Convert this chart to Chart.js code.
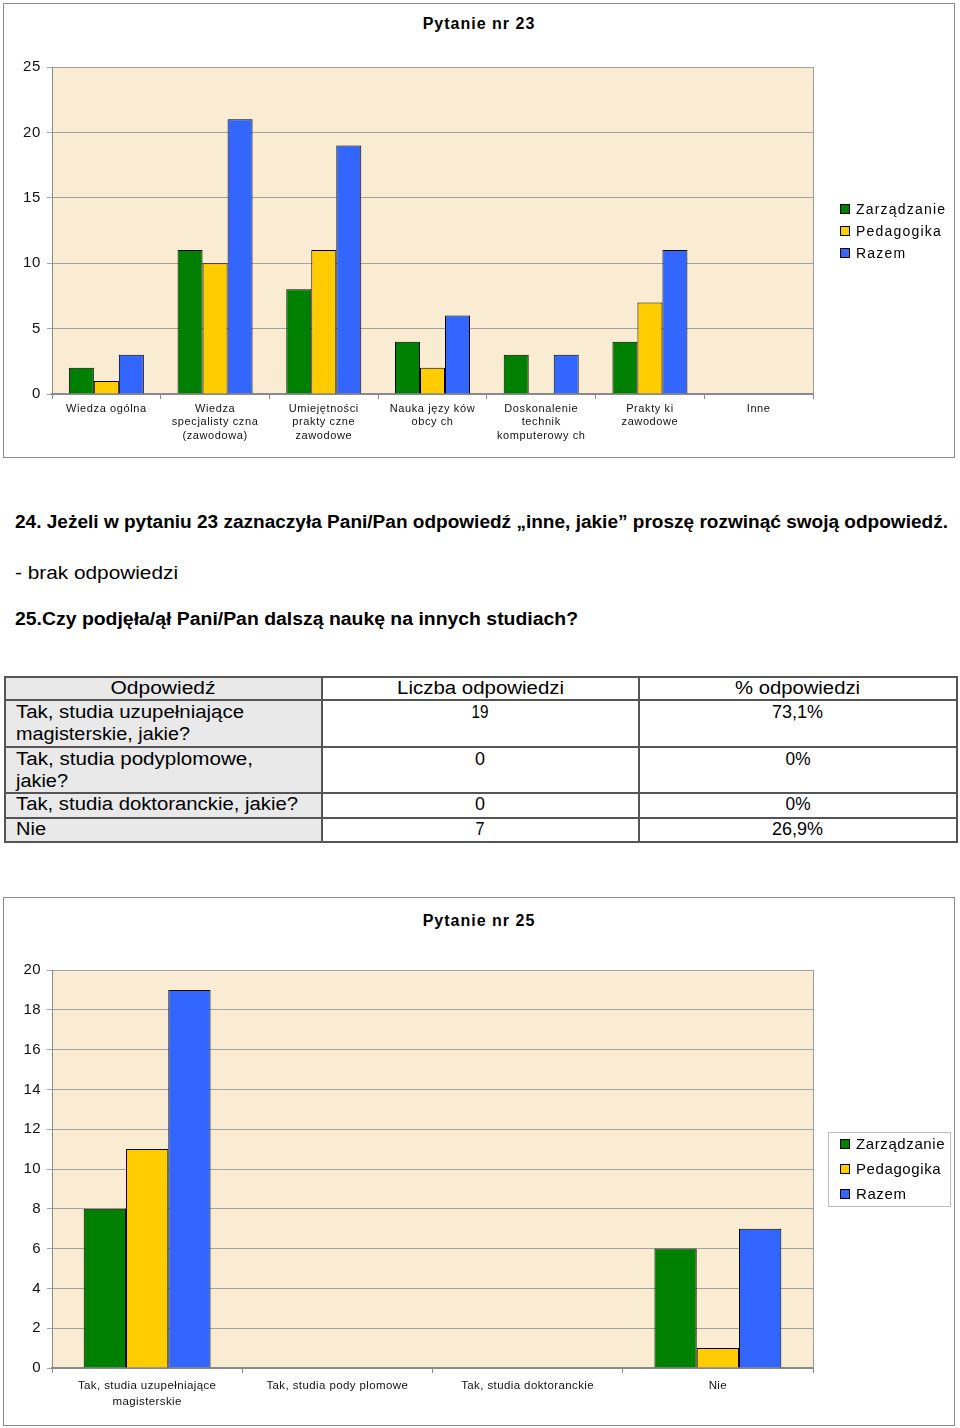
<!DOCTYPE html>
<html><head><meta charset="utf-8">
<script src="https://cdn.jsdelivr.net/npm/chart.js"></script>
<style>
html,body{margin:0;padding:0;background:#fff;}
body{width:960px;height:1428px;position:relative;overflow:hidden;font-family:"Liberation Sans",Arial,sans-serif;color:#000;}
.box{position:absolute;border:1px solid #8a8a8a;background:#fff;}
.box canvas{position:absolute;left:0;top:0;}
.ttl{position:absolute;left:0;width:100%;text-align:center;font-weight:bold;font-size:16px;letter-spacing:1px;line-height:18px;}
.lg{position:absolute;font-size:14px;letter-spacing:1.2px;}
.lg .it{position:absolute;left:0;white-space:nowrap;height:20px;line-height:20px;}
.lg .sw{display:inline-block;width:8px;height:8px;border:1px solid #000;vertical-align:middle;margin-right:6px;position:relative;top:-1px;}
.lgbox{border:1px solid #bdbdbd;}
.p{position:absolute;left:15px;line-height:24px;font-size:18px;white-space:nowrap;}
.f{display:inline-block;white-space:nowrap;transform-origin:0 50%;}
.fc{transform-origin:50% 50%;}
#tbl{position:absolute;left:4px;top:676px;width:952px;border-collapse:collapse;table-layout:fixed;font-size:18px;}
#tbl td{border:2px solid #555;padding:0;line-height:21px;vertical-align:top;text-align:center;}
#tbl tr.dbl td{line-height:22px;}
#tbl td.c1{background:#e9e9e9;}
#tbl td.l{text-align:left;padding-left:10px;}
</style>
</head><body>

<div class="box" style="left:3px;top:3px;width:950px;height:453px;">
  <div class="ttl" style="top:11px;">Pytanie nr 23</div>
  <canvas id="c23" width="950" height="453"></canvas>
</div>
<div class="lg" id="lg23" style="left:840px;top:199px;width:115px;height:70px;"></div>

<div class="p" style="top:510px;font-weight:bold;"><span class="f" data-w="933">24. Jeżeli w pytaniu 23 zaznaczyła Pani/Pan odpowiedź „inne, jakie” proszę rozwinąć swoją odpowiedź.</span></div>
<div class="p" style="top:561px;"><span class="f" data-w="163">- brak odpowiedzi</span></div>
<div class="p" style="top:607px;font-weight:bold;"><span class="f" data-w="563">25.Czy podjęła/ął Pani/Pan dalszą naukę na innych studiach?</span></div>

<table id="tbl">
<colgroup><col style="width:317px"><col style="width:317px"><col style="width:318px"></colgroup>
<tr style="height:23px"><td class="c1"><span class="f fc" data-w="105">Odpowiedź</span></td><td><span class="f fc" data-w="167">Liczba odpowiedzi</span></td><td><span class="f fc" data-w="125">% odpowiedzi</span></td></tr>
<tr class="dbl" style="height:47px"><td class="c1 l"><span class="f" data-w="228">Tak, studia uzupełniające</span><br><span class="f" data-w="174">magisterskie, jakie?</span></td><td><span class="f fc" data-w="17">19</span></td><td><span class="f fc" data-w="51">73,1%</span></td></tr>
<tr class="dbl" style="height:46px"><td class="c1 l"><span class="f" data-w="237">Tak, studia podyplomowe,</span><br><span class="f" data-w="52">jakie?</span></td><td><span class="f fc" data-w="10">0</span></td><td><span class="f fc" data-w="25">0%</span></td></tr>
<tr style="height:25px"><td class="c1 l"><span class="f" data-w="282">Tak, studia doktoranckie, jakie?</span></td><td><span class="f fc" data-w="10">0</span></td><td><span class="f fc" data-w="25">0%</span></td></tr>
<tr style="height:24px"><td class="c1 l"><span class="f" data-w="30">Nie</span></td><td><span class="f fc" data-w="9">7</span></td><td><span class="f fc" data-w="51">26,9%</span></td></tr>
</table>

<div class="box" style="left:3px;top:897px;width:950px;height:527px;">
  <div class="ttl" style="top:14px;">Pytanie nr 25</div>
  <canvas id="c25" width="950" height="527"></canvas>
</div>
<div class="lg lgbox" id="lg25" style="left:828px;top:1132px;width:121px;height:73px;font-size:15px;letter-spacing:0.6px;"></div>

<script>
// ---- DATA: Pytanie nr 23 ----
const seriesNames = ['Zarządzanie', 'Pedagogika', 'Razem'];
const seriesColors = ['#008000', '#ffcc00', '#3366ff'];
const cats23 = [
  ['Wiedza ogólna'],
  ['Wiedza', 'specjalisty czna', '(zawodowa)'],
  ['Umiejętności', 'prakty czne', 'zawodowe'],
  ['Nauka języ ków', 'obcy ch'],
  ['Doskonalenie', 'technik', 'komputerowy ch'],
  ['Prakty ki', 'zawodowe'],
  ['Inne']
];
const zarz23 = [2, 11, 8, 4, 3, 4, 0];
const ped23  = [1, 10, 11, 2, 0, 7, 0];
const raz23  = [3, 21, 19, 6, 3, 11, 0];
const yMax23 = 25, yStep23 = 5;

// ---- DATA: Pytanie nr 25 ----
const cats25 = [
  ['Tak, studia uzupełniające', 'magisterskie'],
  ['Tak, studia pody plomowe'],
  ['Tak, studia doktoranckie'],
  ['Nie']
];
const zarz25 = [8, 0, 0, 6];
const ped25  = [11, 0, 0, 1];
const raz25  = [19, 0, 0, 7];
const yMax25 = 20, yStep25 = 2;

const FONT = '"Liberation Sans", Arial, sans-serif';

const plotBg = {
  id: 'plotBg',
  beforeDraw(chart) {
    const {ctx, chartArea: a} = chart;
    ctx.save();
    ctx.fillStyle = '#f9ecd2';
    ctx.fillRect(a.left, a.top, a.right - a.left, a.bottom - a.top);
    ctx.restore();
  },
  afterDraw(chart) {
    const {ctx, chartArea: a} = chart;
    ctx.save();
    ctx.strokeStyle = '#9a9a9a';
    ctx.lineWidth = 1;
    ctx.beginPath();
    ctx.moveTo(Math.round(a.right) + 0.5, a.top);
    ctx.lineTo(Math.round(a.right) + 0.5, a.bottom);
    ctx.stroke();
    ctx.restore();
  }
};

function makeChart(id, cats, data, yMax, yStep, opts) {
  const ctx = document.getElementById(id).getContext('2d');
  const spacingPlugin = {
    id: 'spacing',
    beforeDraw(chart) { chart.ctx.letterSpacing = opts.spacing; },
    afterDraw(chart) { chart.ctx.letterSpacing = '0px'; }
  };
  return new Chart(ctx, {
    type: 'bar',
    data: {
      labels: cats,
      datasets: data.map((d, i) => ({
        label: seriesNames[i],
        data: d,
        backgroundColor: seriesColors[i],
        borderColor: '#000',
        borderWidth: 1,
        borderSkipped: 'bottom',
        categoryPercentage: opts.catPct,
        barPercentage: 1
      }))
    },
    options: {
      responsive: false,
      animation: false,
      devicePixelRatio: 1,
      layout: { padding: { left: 0, right: 141, top: opts.top, bottom: 0 } },
      plugins: { legend: { display: false }, title: { display: false }, tooltip: { enabled: false } },
      scales: {
        x: {
          offset: true,
          grid: { offset: true, drawOnChartArea: false, tickLength: 5, color: '#8a8a8a' },
          border: { color: '#8a8a8a', width: 2 },
          ticks: { color: '#111', font: { family: FONT, size: opts.xFont, lineHeight: opts.xLine }, padding: opts.xPad, maxRotation: 0, autoSkip: false },
          afterFit(s) { s.height = opts.xHeight; }
        },
        y: {
          min: 0, max: yMax,
          grid: { color: '#a3a3a3', tickLength: 5, lineWidth: 1 },
          border: { color: '#8a8a8a', width: 1 },
          ticks: { stepSize: yStep, color: '#111', font: { family: FONT, size: 15 }, padding: 6 },
          afterFit(s) { s.width = 48; }
        }
      }
    },
    plugins: [plotBg, spacingPlugin]
  });
}

function buildLegend(id, tops) {
  const el = document.getElementById(id);
  seriesNames.forEach((n, i) => {
    const it = document.createElement('div');
    it.className = 'it';
    it.style.top = tops[i] + 'px';
    it.style.left = (id === 'lg25' ? 11 : 0) + 'px';
    it.innerHTML = '<span class="sw" style="background:' + seriesColors[i] + '"></span>' + n;
    el.appendChild(it);
  });
}

function fitTexts() {
  document.querySelectorAll('.f[data-w]').forEach(el => {
    el.style.transform = 'none';
    const w = el.getBoundingClientRect().width;
    const t = +el.dataset.w;
    if (w > 0) el.style.transform = 'scaleX(' + (t / w).toFixed(4) + ')';
  });
}

function init() {
  makeChart('c23', cats23, [zarz23, ped23, raz23], yMax23, yStep23,
    { top: 63, catPct: 0.69, xFont: 11, xLine: 1.23, xPad: 3, xHeight: 63, spacing: '0.6px' });
  makeChart('c25', cats25, [zarz25, ped25, raz25], yMax25, yStep25,
    { top: 72, catPct: 0.667, xFont: 11.5, xLine: 1.4, xPad: 5, xHeight: 57, spacing: '0.4px' });
  buildLegend('lg23', [0, 22, 44]);
  buildLegend('lg25', [1, 26, 51]);
  fitTexts();
}
if (document.fonts && document.fonts.ready) document.fonts.ready.then(init); else window.onload = init;
</script>
</body></html>
